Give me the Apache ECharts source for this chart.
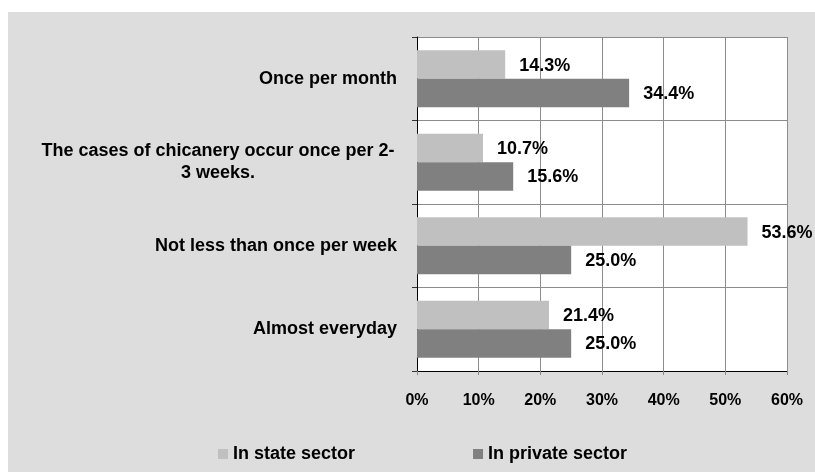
<!DOCTYPE html>
<html>
<head>
<meta charset="utf-8">
<script src="https://cdn.jsdelivr.net/npm/echarts@6/dist/echarts.min.js"></script>
<style>
html,body{margin:0;padding:0;background:#ffffff;}
#bg{position:absolute;left:8px;top:12px;width:807px;height:460px;background:#dddddd;}
#chart{position:absolute;left:0;top:0;width:815px;height:472px;}
</style>
</head>
<body>
<div id="bg"></div>
<div id="chart"></div>
<script>
const categories = [
  "Once per month",
  "The cases of chicanery occur once per 2-\n3 weeks.",
  "Not less than once per week",
  "Almost everyday"
];
const stateSector = [14.3, 10.7, 53.6, 21.4];
const privateSector = [34.4, 15.6, 25.0, 25.0];
const seriesNames = ["In state sector", "In private sector"];
const xTicks = [0, 10, 20, 30, 40, 50, 60];

const FONT = '"Liberation Sans", Arial, sans-serif';
const chart = echarts.init(document.getElementById('chart'), null, {renderer: 'canvas'});
const labelStyle = {
  show: true, position: 'right', distance: 14, offset: [0, 1],
  formatter: p => p.value.toFixed(1) + '%',
  fontFamily: FONT, fontWeight: 'bold', fontSize: 18, color: '#000'
};
chart.setOption({
  backgroundColor: 'transparent',
  animation: false,
  grid: {left: 417, right: 28, top: 37, bottom: 101, show: true, backgroundColor: '#ffffff', borderWidth: 0},
  legend: {
    left: 213, top: 440, itemWidth: 10, itemHeight: 10, itemGap: 118, icon: 'rect',
    textStyle: {fontFamily: FONT, fontWeight: 'bold', fontSize: 18, color: '#000'},
    data: seriesNames
  },
  xAxis: {
    type: 'value', min: xTicks[0], max: xTicks[xTicks.length - 1], interval: 10,
    axisLine: {show: true, lineStyle: {color: '#000', width: 1}},
    axisTick: {show: true, length: 4, lineStyle: {color: '#888'}},
    splitLine: {show: true, lineStyle: {color: '#8c8c8c', width: 1}},
    axisLabel: {margin: 22, formatter: v => v + '%', fontFamily: FONT, fontWeight: 'bold', fontSize: 16, color: '#000'}
  },
  yAxis: {
    type: 'category', inverse: true, data: categories,
    axisLine: {show: true, lineStyle: {color: '#000', width: 1}},
    axisTick: {show: true, length: 5, lineStyle: {color: '#333'}},
    splitLine: {show: true, lineStyle: {color: '#8c8c8c', width: 1}},
    axisLabel: {
      margin: 20, fontFamily: FONT, fontWeight: 'bold', fontSize: 18, color: '#000', lineHeight: 22, align: 'right',
      formatter: v => v.indexOf('\n') >= 0 ? v.split('\n').map(l => '{c|' + l + '}').join('\n') : v,
      rich: {c: {width: 358, align: 'center', fontFamily: FONT, fontWeight: 'bold', fontSize: 18, color: '#000', lineHeight: 22}}
    }
  },
  series: [
    {name: seriesNames[0], type: 'bar', data: stateSector, itemStyle: {color: '#c0c0c0'},
     barGap: '0%', barCategoryGap: '32%', label: labelStyle},
    {name: seriesNames[1], type: 'bar', data: privateSector, itemStyle: {color: '#808080'},
     barGap: '0%', barCategoryGap: '32%', label: labelStyle}
  ]
});
</script>
</body>
</html>
